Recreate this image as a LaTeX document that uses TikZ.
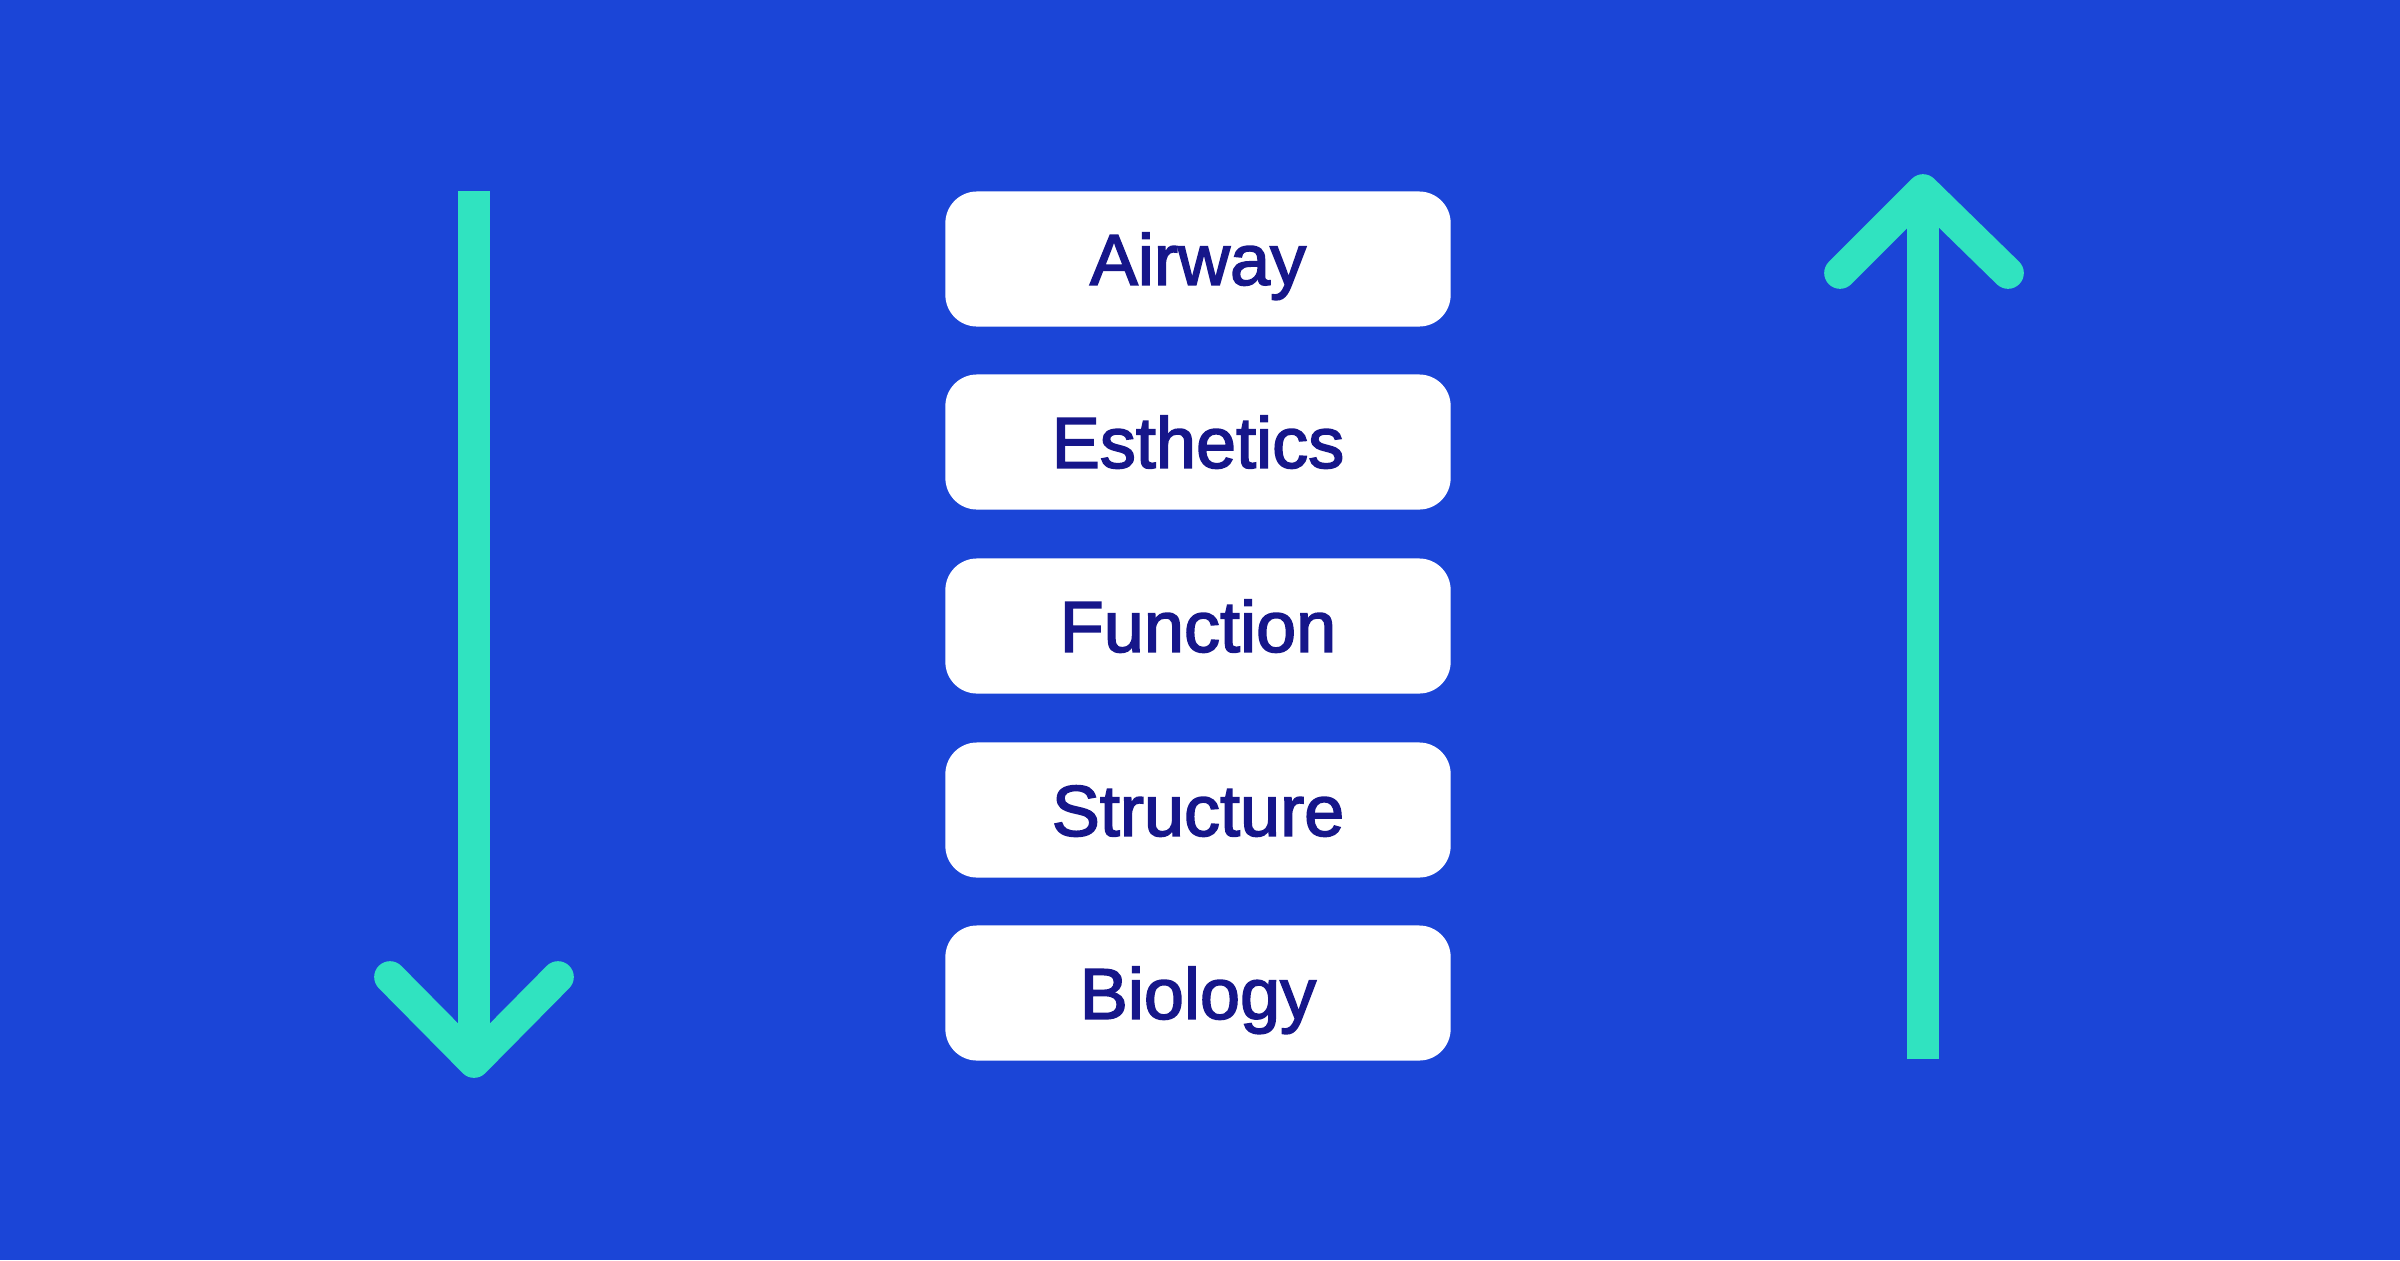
\documentclass[tikz,border=0pt]{standalone}
\usepackage{fontspec}
\setmainfont{Liberation Sans}
\newfontfamily\boxfont{Liberation Sans}[FakeBold=2.2]
\definecolor{bg}{HTML}{1B45D7}
\definecolor{teal}{HTML}{30E3C0}
\definecolor{navy}{HTML}{16168A}
\begin{document}
\begin{tikzpicture}[x=0.01cm,y=-0.01cm,
  box/.style={draw=none,fill=white,rounded corners=9pt,minimum width=5.05cm,minimum height=1.35cm,
    text height=14.7pt,text depth=0pt,
    text=navy,font=\boxfont\fontsize{20.5}{24}\selectfont},
  shaft/.style={draw=teal,line width=9pt,line cap=butt},
  head/.style={draw=teal,line width=9pt,line cap=round,line join=round}]
\fill[bg] (0,0) rectangle (2400,1260);
\useasboundingbox (0,0) rectangle (2400,1260);
\node[box] (airway) at (1198,259) {Airway};
\node[box] (esth) at (1198,442) {Esthetics};
\node[box] (func) at (1198,626) {Function};
\node[box] (struct) at (1198,810) {Structure};
\node[box] (bio) at (1198,993) {Biology};
% left arrow (down)
\coordinate (ltop) at (474,191);
\coordinate (ltip) at (474,1062);
\coordinate (la1) at (390,977);
\coordinate (la2) at (558,977);
\draw[shaft] (ltop) -- (ltip);
\draw[head] (la1) -- (ltip) -- (la2);
% right arrow (up)
\coordinate (rbot) at (1923,1059);
\coordinate (rtip) at (1923,190);
\coordinate (ra1) at (1840,273);
\coordinate (ra2) at (2008,273);
\draw[shaft] (rbot) -- (rtip);
\draw[head] (ra1) -- (rtip) -- (ra2);
\end{tikzpicture}
\end{document}
